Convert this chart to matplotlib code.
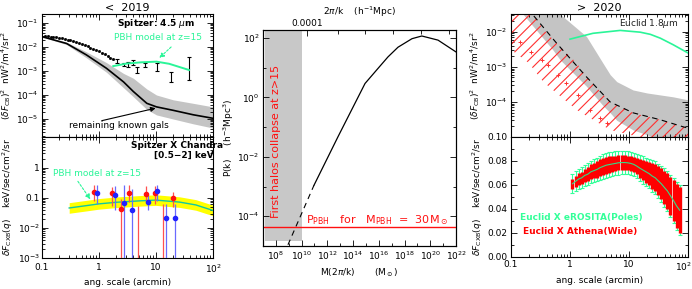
import numpy as np
import matplotlib
matplotlib.use('Agg')
import matplotlib.pyplot as plt
import matplotlib.transforms as mtransforms
from matplotlib.ticker import FixedLocator, FixedFormatter, NullFormatter

plt.rcParams['font.family'] = ['DejaVu Sans']
plt.rcParams['mathtext.fontset'] = 'dejavusans'
plt.rcParams['hatch.linewidth'] = 0.8

GREEN = '#2af598'
RED = '#ff1010'
BLUE = '#2222ff'

# ---------------- left top: Spitzer 4.5um ----------------
gal_x = [0.1, 0.27, 0.6, 1.35, 2.7, 4.0, 6.9, 10.2, 20, 45, 100]
gal_y = [2.7e-2, 1.4e-2, 4.7e-3, 1.3e-3, 3.5e-4, 1.4e-4, 4.5e-5, 3.2e-5, 2.3e-5, 1.5e-5, 1.07e-5]
gal_hi = [2.75e-2, 1.58e-2, 6.3e-3, 2.24e-3, 7.9e-4, 5.0e-4, 1.78e-4, 1.0e-4, 6.3e-5, 4.5e-5, 3.2e-5]
gal_lo = [2.63e-2, 1.26e-2, 3.55e-3, 8.9e-4, 2.0e-4, 8.5e-5, 2.5e-5, 1.48e-5, 1.0e-5, 6.3e-6, 4.2e-6]

dense_x = [0.112, 0.126, 0.141, 0.158, 0.178, 0.2, 0.224, 0.251, 0.282, 0.316, 0.355, 0.398,
           0.447, 0.501, 0.562, 0.631, 0.708, 0.794, 0.891, 1.0, 1.12, 1.26, 1.41, 1.58, 1.78]
dense_y = [0.0282, 0.0275, 0.0269, 0.0263, 0.0251, 0.024, 0.0229, 0.0219, 0.0204, 0.0191, 0.0178,
           0.0162, 0.0148, 0.0132, 0.012, 0.0107, 0.0095, 0.0085, 0.0076, 0.0068, 0.0058, 0.005,
           0.0043, 0.0036, 0.0032]

spz_x = [2.1, 2.7, 3.2, 3.9, 4.6, 6.5, 10.5, 18.2, 38]
spz_y = [2.5e-3, 1.8e-3, 1.9e-3, 2.2e-3, 1.1e-3, 1.8e-3, 1.5e-3, 5.8e-4, 1.3e-3]
spz_hi = [3.1e-3, 2.1e-3, 2.45e-3, 2.9e-3, 1.5e-3, 2.2e-3, 2.1e-3, 9.3e-4, 4.0e-3]
spz_lo = [2.1e-3, 1.6e-3, 1.5e-3, 1.8e-3, 8.5e-4, 1.4e-3, 1.0e-3, 3.5e-4, 4.2e-4]

pbh_ir_x = [1.78, 3.1, 5.5, 10.2, 17, 38]
pbh_ir_y = [1.6e-3, 2.05e-3, 2.3e-3, 2.45e-3, 2.0e-3, 1.1e-3]

# ---------------- left bottom: Spitzer x Chandra ----------------
pbh_x_x = [0.3, 0.6, 1.0, 2.0, 5.0, 10, 26, 50, 100]
pbh_x_y = [0.046, 0.055, 0.063, 0.071, 0.079, 0.084, 0.072, 0.058, 0.038]
pbh_x_band = 1.5

# points whose centre is below the axis (5e-4) only show their error bar
red_x = [0.83, 1.67, 2.4, 3.4, 4.8, 6.8, 9.6, 13.5, 19.5]
red_y = [0.155, 0.147, 0.043, 0.147, 5e-4, 0.13, 0.147, 5e-4, 0.098]
red_hi = [0.257, 0.233, 0.093, 0.257, 0.055, 0.25, 0.25, 0.06, 0.16]
red_lo = [0.081, 0.055, 1e-4, 0.072, 1e-4, 0.07, 0.06, 1e-4, 0.05]

blue_x = [0.94, 1.9, 2.7, 3.75, 7.3, 10.5, 15, 21.5]
blue_y = [0.147, 0.12, 0.066, 0.038, 0.075, 0.163, 0.021, 0.021]
blue_hi = [0.257, 0.25, 0.27, 0.2, 0.12, 0.27, 0.06, 0.06]
blue_lo = [0.06, 0.04, 1e-4, 1e-4, 0.04, 0.08, 1e-4, 1e-4]

# ---------------- middle: P(k) ----------------
pk_M_dash = [8.7e8, 9.1e10]
pk_P_dash = [1.1e-5, 1.1e-3]
pk_M = [9.1e10, 6.8e12, 8.5e14, 8.7e15, 5.1e16, 3.1e17, 3.8e18, 2.2e19, 4.0e20, 1e22]
pk_P = [1.1e-3, 0.048, 2.95, 9.5, 23, 49, 95, 117, 85, 34]
halo_M = [1.4e7, 1e10]
halo_Pmin = 1.5e-5
ppbh = 4.2e-5

# ---------------- right top: Euclid ----------------
eu_x = [1.0, 2.45, 7.1, 15.5, 23, 34, 56, 100]
eu_y = [6.2e-3, 9.1e-3, 1.1e-2, 9.8e-3, 8.5e-3, 6.6e-3, 4.3e-3, 2.5e-3]

dash_x = [0.2, 0.23, 0.59, 1.9, 4.8, 11.7, 34, 83, 100]
dash_y = [5e-2, 3.2e-2, 4.8e-3, 5.2e-4, 1.0e-4, 4.9e-5, 3.1e-5, 1.95e-5, 1.8e-5]

gr_x = [0.16, 0.51, 0.68, 1.9, 3.6, 4.8, 6.2, 11.7, 20.4, 25.7, 56, 100]
gr_hi = [0.1, 0.1, 3.2e-2, 7.4e-3, 1.3e-3, 6.0e-4, 3.8e-4, 2.2e-4, 1.8e-4, 1.7e-4, 1.4e-4, 1.15e-4]
gr_lo = [3.2e-2, 3.1e-3, 1.6e-3, 2.8e-4, 8e-5, 4.9e-5, 3.0e-5, 1.6e-5, 1.15e-5, 1.0e-5, 6e-6, 5e-6]

hat_x = [0.1, 0.2, 0.35, 0.59, 1.29, 1.9, 4.8, 11.7, 15.5, 34, 100]
hat_top = [0.1, 5e-2, 1.2e-2, 4.8e-3, 1.3e-3, 5.2e-4, 1.0e-4, 4.9e-5, 4.3e-5, 3.1e-5, 1.8e-5]
hat_bot = [3.1e-3, 1.3e-3, 3.8e-4, 1.8e-4, 6e-5, 4.0e-5, 1.6e-5, 1.1e-5, 6e-6, 6e-6, 6e-6]

cross_x = [0.14, 0.22, 0.33, 0.43, 0.63, 0.87, 1.38, 2.19, 3.24, 4.17]
cross_y = [5.2e-3, 2.75e-3, 1.6e-3, 1.15e-3, 5.9e-4, 3.5e-4, 1.6e-4, 5.9e-5, 3.5e-5, 2.5e-5]

# ---------------- right bottom: Euclid x X-ray ----------------
cx_x = [1.10, 1.24, 1.40, 1.58, 1.78, 2.0, 2.26, 2.55, 2.87, 3.24, 3.65, 4.1, 4.6, 5.2,
        5.9, 6.6, 7.5, 8.4, 9.5, 10.7, 12.0, 13.5, 15.3, 17.2, 19.4, 21.9, 24.6, 27.8,
        31.3, 35.3, 39.7, 44.8, 50.5, 56.9, 64.1, 72.2]
cx_y = [0.061, 0.063, 0.065, 0.066, 0.068, 0.069, 0.071, 0.072, 0.073, 0.0745, 0.0755,
        0.0765, 0.077, 0.0775, 0.078, 0.0785, 0.0787, 0.0787, 0.0785, 0.078, 0.0772, 0.0758,
        0.074, 0.0725, 0.071, 0.0695, 0.0675, 0.066, 0.0635, 0.061, 0.058, 0.055, 0.051,
        0.047, 0.0425, 0.039]
athena_err = [0.004, 0.0045, 0.005, 0.0052, 0.0055, 0.006, 0.0062, 0.0065, 0.0068, 0.007,
              0.007, 0.007, 0.0068, 0.0066, 0.0064, 0.0062, 0.006, 0.006, 0.006, 0.006, 0.0065,
              0.007, 0.0078, 0.0085, 0.009, 0.0098, 0.0105, 0.0113, 0.012, 0.013, 0.014, 0.015,
              0.016, 0.017, 0.018, 0.019]
erosita_err = [0.008, 0.0083, 0.0086, 0.0088, 0.009, 0.0092, 0.0094, 0.0096, 0.0098, 0.01,
               0.0102, 0.0103, 0.0102, 0.0101, 0.01, 0.0098, 0.0097, 0.0097, 0.0096, 0.0095,
               0.0098, 0.0102, 0.0108, 0.0113, 0.0118, 0.0124, 0.013, 0.0137, 0.0144, 0.0152,
               0.016, 0.0168, 0.0177, 0.0187, 0.0198, 0.021]

# ================= figure =================
W, H = 692, 289
fig = plt.figure(figsize=(W / 100, H / 100), dpi=100)


def add_ax(x0, y0, x1, y1):
    return fig.add_axes([x0 / W, 1 - y1 / H, (x1 - x0) / W, (y1 - y0) / H])


TFS = 6.5


def style(ax):
    ax.tick_params(which='both', direction='in', top=True, right=True, labelsize=TFS,
                   width=0.6, pad=2.5)
    ax.tick_params(which='major', length=4)
    ax.tick_params(which='minor', length=2)
    for s in ax.spines.values():
        s.set_linewidth(0.8)


def log_minor(lo, hi):
    out = []
    for e in range(lo, hi):
        for m in range(2, 10):
            out.append(m * 10.0 ** e)
    return out


xt = [0.1, 1, 10, 100]
xtl = ['0.1', '1', '10', r'10$^2$']

# ---- left top
a1 = add_ax(42, 14, 213, 137)
a1.set_xscale('log'); a1.set_yscale('log')
a1.set_xlim(0.1, 100); a1.set_ylim(10 ** -5.75, 10 ** -0.625)
a1.fill_between(gal_x, gal_lo, gal_hi, color='#c4c4c4', lw=0, zorder=1)
a1.plot(gal_x, gal_y, color='black', lw=1.2, zorder=3)
a1.plot(dense_x, dense_y, ls='none', marker='s', ms=1.0, color='black', zorder=3)
spz_y_arr = np.array(spz_y)
a1.errorbar(spz_x, spz_y, yerr=[spz_y_arr - np.array(spz_lo), np.array(spz_hi) - spz_y_arr],
            fmt='none', ecolor='black', elinewidth=0.8, capsize=1.2, capthick=0.8, zorder=3)
a1.plot(pbh_ir_x, pbh_ir_y, color=GREEN, lw=1.4, zorder=4)
a1.text(0.67, 0.92, r'Spitzer: 4.5 $\mu$m', transform=a1.transAxes, fontsize=6.5,
        fontweight='bold', ha='center', va='center')
a1.text(0.68, 0.81, 'PBH model at z=15', transform=a1.transAxes, fontsize=6.5,
        color=GREEN, ha='center', va='center')
a1.annotate('', xy=(10.5, 2.9e-3), xytext=(20, 1.2e-2),
            arrowprops=dict(arrowstyle='-|>', color=GREEN, lw=0.8, ls=(0, (2, 1.5)),
                            mutation_scale=7))
a1.text(0.45, 0.09, 'remaining known gals', transform=a1.transAxes, fontsize=6.5,
        ha='center', va='center')
a1.annotate('', xy=(11, 3.0e-5), xytext=(1.0, 8e-6),
            arrowprops=dict(arrowstyle='-|>', color='black', lw=0.8, mutation_scale=7))
a1.yaxis.set_major_locator(FixedLocator([1e-5, 1e-4, 1e-3, 1e-2, 1e-1]))
a1.yaxis.set_major_formatter(FixedFormatter([r'10$^{-5}$', r'10$^{-4}$', r'10$^{-3}$',
                                             r'10$^{-2}$', r'10$^{-1}$']))
a1.yaxis.set_minor_locator(FixedLocator(log_minor(-6, 0)))
a1.yaxis.set_minor_formatter(NullFormatter())
a1.xaxis.set_major_locator(FixedLocator(xt))
a1.xaxis.set_minor_locator(FixedLocator(log_minor(-1, 2)))
a1.xaxis.set_major_formatter(NullFormatter()); a1.xaxis.set_minor_formatter(NullFormatter())
style(a1)
a1.set_ylabel(r'$(\delta F_{\rm CB})^2$  nW$^2$/m$^4$/sr$^2$', fontsize=6.5, labelpad=2)
a1.set_title('<  2019', fontsize=8, pad=2)

# ---- left bottom
a2 = add_ax(42, 137, 213, 258)
a2.set_xscale('log'); a2.set_yscale('log')
a2.set_xlim(0.1, 100); a2.set_ylim(1e-3, 10.5)
band_y = np.array(pbh_x_y)
a2.fill_between(pbh_x_x, band_y / pbh_x_band, band_y * pbh_x_band, color='#ffff00', lw=0,
                zorder=1)
a2.plot(pbh_x_x, pbh_x_y, color='#10c8a0', lw=1.0, zorder=2)
ry = np.array(red_y)
a2.errorbar(red_x, red_y, yerr=[ry - np.array(red_lo), np.array(red_hi) - ry], fmt='o',
            ms=3, color=RED, ecolor='#ff5050', elinewidth=0.9, capsize=0, zorder=4)
by = np.array(blue_y)
a2.errorbar(blue_x, blue_y, yerr=[by - np.array(blue_lo), np.array(blue_hi) - by], fmt='o',
            ms=3, color=BLUE, ecolor='#6a6aff', elinewidth=0.9, capsize=0, zorder=4)
a2.text(0.79, 0.93, 'Spitzer X Chandra', transform=a2.transAxes, fontsize=6.5,
        fontweight='bold', ha='center', va='center')
a2.text(0.83, 0.85, '[0.5\u22122] keV', transform=a2.transAxes, fontsize=6.5,
        fontweight='bold', ha='center', va='center')
a2.text(0.32, 0.70, 'PBH model at z=15', transform=a2.transAxes, fontsize=6.5,
        color=GREEN, ha='center', va='center')
a2.annotate('', xy=(0.75, 0.075), xytext=(0.4, 0.42),
            arrowprops=dict(arrowstyle='-|>', color=GREEN, lw=0.8, ls=(0, (2, 1.5)),
                            mutation_scale=7))
a2.yaxis.set_major_locator(FixedLocator([1e-3, 1e-2, 0.1, 1]))
a2.yaxis.set_major_formatter(FixedFormatter([r'10$^{-3}$', r'10$^{-2}$', '0.1', '1']))
a2.yaxis.set_minor_locator(FixedLocator(log_minor(-3, 1)))
a2.yaxis.set_minor_formatter(NullFormatter())
a2.xaxis.set_major_locator(FixedLocator(xt))
a2.xaxis.set_major_formatter(FixedFormatter(xtl))
a2.xaxis.set_minor_locator(FixedLocator(log_minor(-1, 2)))
a2.xaxis.set_minor_formatter(NullFormatter())
style(a2)
a2.tick_params(axis='y', pad=1.5)
a2.tick_params(axis='x', pad=3.5)
a2.set_ylabel(r'$\delta F_{\rm CXB}(q)$    keV/sec/cm$^2$/sr', fontsize=6.5, labelpad=2)
a2.set_xlabel('ang. scale (arcmin)', fontsize=6.5, labelpad=2)

# ---- middle
a3 = add_ax(263, 30, 456, 246)
a3.set_xscale('log'); a3.set_yscale('log')
a3.set_xlim(1e7, 1e22); a3.set_ylim(1e-5, 10 ** 2.27)
a3.fill_between(halo_M, halo_Pmin, 1e3, color='#c8c8c8', lw=0, zorder=1)
a3.plot(pk_M_dash, pk_P_dash, color='black', lw=0.8, ls=(0, (5, 4)), zorder=3)
a3.plot(pk_M, pk_P, color='black', lw=0.9, zorder=3)
a3.axhline(ppbh, color=RED, lw=1.0, zorder=4)
a3.text(1.0e8, 10 ** -1.49, 'First halos collapse at z>15', rotation=90, color=RED,
        fontsize=8, ha='center', va='center', zorder=5)
a3.text(2.2e10, 10 ** -4.12, r'P$_{\rm PBH}$   for   M$_{\rm PBH}$  =  30M$_\odot$', color=RED,
        fontsize=8, ha='left', va='center', zorder=5)
a3.xaxis.set_major_locator(FixedLocator([1e8, 1e10, 1e12, 1e14, 1e16, 1e18, 1e20, 1e22]))
a3.xaxis.set_major_formatter(FixedFormatter([r'10$^{%d}$' % e for e in range(8, 23, 2)]))
a3.xaxis.set_minor_locator(FixedLocator([10.0 ** e for e in range(7, 22, 2)]))
a3.xaxis.set_minor_formatter(NullFormatter())
a3.yaxis.set_major_locator(FixedLocator([1e-4, 1e-2, 1, 1e2]))
a3.yaxis.set_major_formatter(FixedFormatter([r'10$^{-4}$', r'10$^{-2}$', r'10$^{0}$', r'10$^{2}$']))
a3.yaxis.set_minor_locator(FixedLocator([1e-5, 1e-3, 1e-1, 1e1]))
a3.yaxis.set_minor_formatter(NullFormatter())
style(a3)
a3.tick_params(which='both', top=False)
a3.set_xlabel(r'M(2$\pi$/k)       (M$_\odot$)', fontsize=6.5, labelpad=3)
a3.set_ylabel(r'P(k)     (h$^{-3}$Mpc$^3$)', fontsize=6.5, labelpad=1)
top = a3.twiny()
top.set_xscale('log'); top.set_xlim(a3.get_xlim())
top.xaxis.set_major_locator(FixedLocator([10 ** 10.4]))
top.xaxis.set_major_formatter(FixedFormatter(['0.0001']))
top.xaxis.set_minor_locator(FixedLocator([10 ** 12.8, 10 ** 14.95, 10 ** 17.1, 10 ** 19.3, 10 ** 21.45]))
top.xaxis.set_minor_formatter(NullFormatter())
top.tick_params(which='both', direction='in', labelsize=TFS, width=0.6, pad=1.5)
top.tick_params(which='major', length=4)
top.tick_params(which='minor', length=3)
top.set_xlabel(r'2$\pi$/k    (h$^{-1}$Mpc)', fontsize=6.5, labelpad=3)

# ---- right top
a4 = add_ax(511, 14, 688, 137)
a4.set_xscale('log'); a4.set_yscale('log')
a4.set_xlim(0.1, 100); a4.set_ylim(1e-5, 10 ** -1.49)
a4.fill_between(gr_x, gr_lo, gr_hi, color='#c4c4c4', lw=0, zorder=1)
a4.fill_between(hat_x, hat_bot, hat_top, facecolor='none', edgecolor='#ff3030', hatch='///',
                lw=0, zorder=2)
a4.plot(dash_x, dash_y, color='black', lw=0.8, ls=(0, (5, 4)), zorder=3)
a4.plot(cross_x, cross_y, ls='none', marker='+', ms=3, mew=0.7, color='#ff3030', zorder=3)
a4.plot(eu_x, eu_y, color=GREEN, lw=1.2, zorder=4)
a4.text(0.78, 0.92, r'Euclid 1.8$\mu$m', transform=a4.transAxes, fontsize=6.5,
        ha='center', va='center', color='#222222')
a4.yaxis.set_major_locator(FixedLocator([1e-4, 1e-3, 1e-2]))
a4.yaxis.set_major_formatter(FixedFormatter([r'10$^{-4}$', r'10$^{-3}$', r'10$^{-2}$']))
a4.yaxis.set_minor_locator(FixedLocator(log_minor(-5, -1)))
a4.yaxis.set_minor_formatter(NullFormatter())
a4.xaxis.set_major_locator(FixedLocator(xt))
a4.xaxis.set_minor_locator(FixedLocator(log_minor(-1, 2)))
a4.xaxis.set_major_formatter(NullFormatter()); a4.xaxis.set_minor_formatter(NullFormatter())
style(a4)
a4.set_ylabel(r'$(\delta F_{\rm CB})^2$  nW$^2$/m$^4$/sr$^2$', fontsize=6.5, labelpad=2)
a4.set_title('>  2020', fontsize=8, pad=2)

# ---- right bottom
a5 = add_ax(511, 137, 688, 257)
a5.set_xscale('log')
a5.set_xlim(0.1, 100); a5.set_ylim(0, 0.1)
a5.errorbar(cx_x, cx_y, yerr=erosita_err, fmt='none', ecolor='#33ff99', elinewidth=0.8,
            capsize=1.3, capthick=0.8, zorder=2)
a5.errorbar(cx_x, cx_y, yerr=athena_err, fmt='none', ecolor='#ff0000', elinewidth=2.4,
            capsize=0, zorder=3)
a5.plot(cx_x, cx_y, color='#33dd88', lw=0.8, zorder=4)
a5.text(0.05, 0.33, 'Euclid X eROSITA(Poles)', transform=a5.transAxes, fontsize=6.5,
        fontweight='bold', color='#33ff99', ha='left', va='center')
a5.text(0.07, 0.21, 'Euclid X Athena(Wide)', transform=a5.transAxes, fontsize=6.5,
        fontweight='bold', color='#ff0000', ha='left', va='center')
a5.yaxis.set_major_locator(FixedLocator([0, 0.02, 0.04, 0.06, 0.08, 0.10]))
a5.yaxis.set_major_formatter(FixedFormatter(['0.00', '0.02', '0.04', '0.06', '0.08', '0.10']))
a5.yaxis.set_minor_locator(FixedLocator([0.01, 0.03, 0.05, 0.07, 0.09]))
a5.xaxis.set_major_locator(FixedLocator(xt))
a5.xaxis.set_major_formatter(FixedFormatter(xtl))
a5.xaxis.set_minor_locator(FixedLocator(log_minor(-1, 2)))
a5.xaxis.set_minor_formatter(NullFormatter())
style(a5)
a5.set_ylabel(r'$\delta F_{\rm CXB}(q)$    keV/sec/cm$^2$/sr', fontsize=6.5, labelpad=2)
a5.set_xlabel('ang. scale (arcmin)', fontsize=6.5, labelpad=2)
# keep the last tick label inside the canvas
last = a5.xaxis.get_majorticklabels()[-1]
last.set_transform(last.get_transform() + mtransforms.ScaledTranslation(-5 / 100, 0,
                                                                         fig.dpi_scale_trans))

fig.savefig('out.png', dpi=100)
